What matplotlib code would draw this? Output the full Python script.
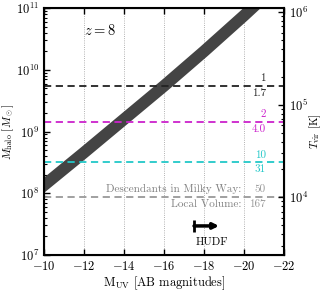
import numpy as np
import matplotlib
matplotlib.use('Agg')
import matplotlib.pyplot as plt
from matplotlib.ticker import FixedLocator, FuncFormatter, LogLocator, NullFormatter

plt.rcParams['font.family'] = 'serif'
plt.rcParams['font.serif'] = ['cmr10', 'DejaVu Serif']
plt.rcParams['mathtext.fontset'] = 'cm'
plt.rcParams['axes.formatter.use_mathtext'] = True
plt.rcParams['axes.unicode_minus'] = False

# M_UV -> log10 halo mass (z=8 relation)
muv = [-9.5, -10, -12, -14, -16, -18, -20, -21]
log_mhalo = [8.00, 8.13, 8.66, 9.20, 9.74, 10.30, 10.88, 11.18]

# horizontal reference masses with their labels
ref_mass = [5.5e9, 1.43e9, 3.2e8, 8.8e7]
ref_color = ['#222222', '#cc22cc', '#22c8c8', '#999999']
ref_top = ['1', '2', '10', '50']
ref_bot = ['1.7', '4.0', '31', '167']

# HUDF limit
hudf_start, hudf_end, hudf_mass = -17.5, -18.75, 2.95e7

TVIR_OFFSET = -1.29   # log T_vir = 2/3 log M - 1.29


def bold(v, pos=None):
    return r'$\mathbf{%d}$' % v


def bold_pow(v, pos=None):
    return r'$\mathbf{10^{%d}}$' % int(round(np.log10(v)))


fig = plt.figure(figsize=(3.22, 2.91), dpi=100)
ax = fig.add_axes([0.137, 0.124, 0.745, 0.848])

ax.plot(muv, 10 ** np.array(log_mhalo), color='#444444', lw=8.5,
        solid_capstyle='butt', solid_joinstyle='round')

for m, c, t, b in zip(ref_mass, ref_color, ref_top, ref_bot):
    ax.axhline(m, color=c, ls='--', lw=1.3, dashes=(4, 2.5))
    ax.text(-21.1, m * 1.1, t, color=c, ha='right', va='bottom', fontsize=8)
    ax.text(-21.1, m / 1.1, b, color=c, ha='right', va='top', fontsize=8)

ax.text(-19.85, ref_mass[3] * 1.1, 'Descendants in Milky Way:', color='#808080',
        ha='right', va='bottom', fontsize=8)
ax.text(-19.85, ref_mass[3] / 1.1, 'Local Volume:', color='#808080',
        ha='right', va='top', fontsize=8)

ax.annotate('', xy=(hudf_end, hudf_mass), xytext=(hudf_start, hudf_mass),
            arrowprops=dict(arrowstyle='-|>', lw=2.5, color='k',
                            shrinkA=0, shrinkB=0, mutation_scale=8))
ax.plot([hudf_start], [hudf_mass], marker='|', ms=9, mew=2, color='k')
ax.text(-18.4, 1.62e7, 'HUDF', ha='center', va='center', fontsize=8)

ax.text(-12.8, 4.4e10, r'$z=8$', ha='center', va='center', fontsize=10.5)

ax.set_xlim(-10, -22)
ax.set_yscale('log')
ax.set_ylim(1e7, 1e11)
ax.xaxis.set_major_locator(FixedLocator([-10, -12, -14, -16, -18, -20, -22]))
ax.xaxis.set_major_formatter(FuncFormatter(bold))
ax.yaxis.set_major_formatter(FuncFormatter(bold_pow))
ax.yaxis.set_minor_formatter(NullFormatter())
ax.grid(axis='x', ls=':', lw=0.6, color='#999999')
ax.tick_params(which='both', direction='in', top=True, labelsize=9)
ax.tick_params(which='major', length=4, width=1)
ax.tick_params(which='minor', length=2, width=0.8)
ax.tick_params(axis='x', which='minor', top=False, bottom=False)
for s in ax.spines.values():
    s.set_linewidth(1.5)

ax.set_xlabel(r'M$_{\rm UV}$ [AB magnitudes]', fontsize=9, labelpad=1)
ax.set_ylabel(r'$M_{\rm halo}\ [M_\odot]$', fontsize=8, labelpad=0)

ax2 = ax.twinx()
ax2.set_yscale('log')
lo, hi = ax.get_ylim()
ax2.set_ylim(10 ** (2 / 3 * np.log10(lo) + TVIR_OFFSET),
             10 ** (2 / 3 * np.log10(hi) + TVIR_OFFSET))
ax2.yaxis.set_major_locator(LogLocator(base=10))
ax2.yaxis.set_major_formatter(FuncFormatter(bold_pow))
ax2.yaxis.set_minor_formatter(NullFormatter())
ax2.tick_params(which='both', direction='in', labelsize=9)
ax2.tick_params(which='major', length=4, width=1)
ax2.tick_params(which='minor', length=2, width=0.8)
ax2.set_ylabel(r'$T_{\rm vir}$ [K]', fontsize=8, labelpad=0)

fig.savefig('out.png', dpi=100)
